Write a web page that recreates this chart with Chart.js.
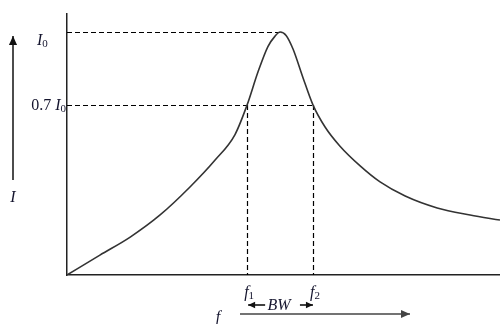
<!DOCTYPE html>
<html>
<head>
<meta charset="utf-8">
<script src="https://cdn.jsdelivr.net/npm/chart.js@4.4.1/dist/chart.umd.min.js"></script>
<style>
  html, body { margin: 0; padding: 0; background: #fff; }
  #wrap { width: 500px; height: 324px; }
</style>
</head>
<body>
<div id="wrap"><canvas id="c" width="500" height="324"></canvas></div>
<script>
// Resonance curve: current I versus frequency f (arbitrary units, I0 = 1)
const freq    = [0, 7.6, 14.6, 21.5, 28.4, 34.2, 38.8, 41.6, 44.1, 46.4, 48.0, 49.2, 50.6, 52.2, 54.5, 56.8, 59.6, 63.0, 67.7, 72.3, 78.1, 85.5, 93.1, 100];
const current = [0, 0.082, 0.156, 0.247, 0.362, 0.473, 0.578, 0.70, 0.835, 0.940, 0.982, 1.0, 0.986, 0.930, 0.812, 0.70, 0.609, 0.531, 0.449, 0.383, 0.325, 0.276, 0.247, 0.226];

// Half-power band edges f1, f2 and the peak
const bandFreqs  = [41.6, 56.8];
const bandLabels = ['f', 'f'];
const bandSubs   = ['1', '2'];
const peakFreq   = 49.2;

// Reference current levels: I0 and 0.7 I0
const levels      = [1.0, 0.7];
const levelPrefix = ['', '0.7 '];
const levelEnds   = [peakFreq, bandFreqs[1]];

const INK = '#15152e';
const SERIF = '"Liberation Serif", "DejaVu Serif", serif';

function subText(ctx, main, sub, x, y, size, italicMain) {
  ctx.font = (italicMain ? 'italic ' : '') + size + 'px ' + SERIF;
  ctx.fillText(main, x, y);
  const w = ctx.measureText(main).width;
  ctx.font = Math.round(size * 0.7) + 'px ' + SERIF;
  ctx.fillText(sub, x + w, y + size * 0.22);
}

function arrow(ctx, x1, y1, x2, y2, head, color, width) {
  ctx.save();
  ctx.strokeStyle = color; ctx.fillStyle = color; ctx.lineWidth = width;
  ctx.beginPath(); ctx.moveTo(x1, y1); ctx.lineTo(x2, y2); ctx.stroke();
  const a = Math.atan2(y2 - y1, x2 - x1);
  ctx.beginPath();
  ctx.moveTo(x2, y2);
  ctx.lineTo(x2 - head * Math.cos(a) + head * 0.45 * Math.sin(a), y2 - head * Math.sin(a) - head * 0.45 * Math.cos(a));
  ctx.lineTo(x2 - head * Math.cos(a) - head * 0.45 * Math.sin(a), y2 - head * Math.sin(a) + head * 0.45 * Math.cos(a));
  ctx.closePath(); ctx.fill();
  ctx.restore();
}

const annotations = {
  id: 'resonanceMarks',
  beforeDatasetsDraw(chart) {
    const { ctx, scales: { x, y } } = chart;
    ctx.save();
    ctx.strokeStyle = '#000';
    ctx.lineWidth = 1.2;
    ctx.setLineDash([5, 3]);
    // horizontal reference levels
    levels.forEach((lv, i) => {
      const py = Math.round(y.getPixelForValue(lv)) + 0.5;
      ctx.beginPath();
      ctx.moveTo(x.left, py);
      ctx.lineTo(x.getPixelForValue(levelEnds[i]), py);
      ctx.stroke();
    });
    // vertical band edges
    bandFreqs.forEach(f => {
      const px = Math.round(x.getPixelForValue(f)) + 0.5;
      ctx.beginPath();
      ctx.moveTo(px, y.getPixelForValue(levels[1]));
      ctx.lineTo(px, y.bottom);
      ctx.stroke();
    });
    ctx.restore();
  },
  afterDraw(chart) {
    const { ctx, scales: { x, y } } = chart;
    ctx.save();
    ctx.fillStyle = INK;
    ctx.textBaseline = 'middle';

    // level labels on the left of the vertical axis
    levels.forEach((lv, i) => {
      const py = y.getPixelForValue(lv) + (i === 0 ? 9 : 1);
      ctx.font = '16px ' + SERIF;
      const pre = levelPrefix[i];
      const preW = ctx.measureText(pre).width;
      ctx.font = 'italic 16px ' + SERIF;
      const iW = ctx.measureText('I').width;
      ctx.font = '11px ' + SERIF;
      const zW = ctx.measureText('0').width;
      const total = preW + iW + zW;
      const startX = i === 0 ? 37 : x.left - 1 - total;
      ctx.font = '16px ' + SERIF;
      ctx.fillText(pre, startX, py);
      subText(ctx, 'I', '0', startX + preW, py, 16, true);
    });

    // vertical axis arrow and its label
    arrow(ctx, 13, 180, 13, 36, 9, '#111', 1.5);
    ctx.font = 'italic 16px ' + SERIF;
    ctx.textAlign = 'center';
    ctx.fillText('I', 13, 198);

    // band edge labels
    ctx.textAlign = 'left';
    bandFreqs.forEach((f, i) => {
      const px = x.getPixelForValue(f);
      subText(ctx, bandLabels[i], bandSubs[i], px - 3, 293, 16, true);
    });

    // bandwidth arrows and label
    const p1 = x.getPixelForValue(bandFreqs[0]);
    const p2 = x.getPixelForValue(bandFreqs[1]);
    arrow(ctx, p1 + 18, 305, p1 + 1, 305, 7, '#111', 1.6);
    arrow(ctx, p2 - 13, 305, p2, 305, 7, '#111', 1.6);
    ctx.font = 'italic 16px ' + SERIF;
    ctx.textAlign = 'center';
    ctx.fillStyle = INK;
    ctx.fillText('BW', (p1 + p2) / 2 - 1, 306);

    // frequency axis arrow and its label
    ctx.fillText('f', 218, 318);
    arrow(ctx, 240, 314, 410, 314, 9, '#444', 1.5);
    ctx.restore();
  }
};

new Chart(document.getElementById('c'), {
  type: 'scatter',
  data: {
    datasets: [{
      data: freq.map((f, i) => ({ x: f, y: current[i] })),
      showLine: true,
      borderColor: '#333',
      borderWidth: 1.6,
      pointRadius: 0,
      cubicInterpolationMode: 'monotone',
      fill: false
    }]
  },
  options: {
    responsive: false,
    animation: false,
    layout: { padding: { left: 67, right: 0, top: 14, bottom: 49 } },
    plugins: { legend: { display: false }, tooltip: { enabled: false } },
    scales: {
      x: {
        type: 'linear', min: 0, max: 100,
        grid: { display: false, drawTicks: false },
        ticks: { display: false },
        border: { display: true, color: '#222', width: 1.5 },
        afterFit(s) { s.height = 0; }
      },
      y: {
        type: 'linear', min: 0, max: 1.074,
        grid: { display: false, drawTicks: false },
        ticks: { display: false },
        border: { display: true, color: '#222', width: 1.5 },
        afterFit(s) { s.width = 0; }
      }
    }
  },
  plugins: [annotations]
});
</script>
</body>
</html>
